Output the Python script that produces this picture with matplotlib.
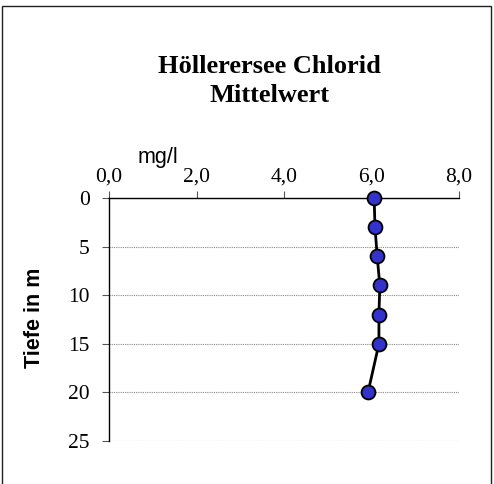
import numpy as np
import matplotlib.pyplot as plt
from matplotlib.patches import Rectangle

depth = [0, 3, 6, 9, 12, 15, 20]
chlorid = [6.06, 6.08, 6.13, 6.19, 6.17, 6.17, 5.92]
xticks = [0, 2, 4, 6, 8]
xticklabels = ['0,0', '2,0', '4,0', '6,0', '8,0']
yticks = [0, 5, 10, 15, 20, 25]

fig = plt.figure(figsize=(4.94, 4.84), dpi=100)
ax = fig.add_axes([109/494, 1 - 441/484, 350/494, 243/484])

ax.plot(chlorid, depth, color='black', linewidth=2, zorder=3,
        marker='o', markersize=10, markerfacecolor='#3333cc',
        markeredgecolor='black', markeredgewidth=1.3, clip_on=False)

ax.set_xlim(0, 8)
ax.set_ylim(25, 0)
ax.xaxis.tick_top()
ax.set_xticks(xticks)
ax.set_xticklabels(xticklabels)
ax.set_yticks(yticks)
for lab in ax.get_xticklabels() + ax.get_yticklabels():
    lab.set_family('Liberation Serif')
    lab.set_fontsize(15.5)
ax.tick_params(axis='x', direction='out', length=5, width=0.8, pad=3, color='#555555')
ax.tick_params(axis='y', direction='out', length=5, width=0.8, pad=9, color='#555555')

ax.grid(axis='y', color='#888888', linestyle=(0, (1, 1)), linewidth=0.8)
ax.spines['right'].set_visible(False)
ax.spines['bottom'].set_visible(False)
ax.spines['top'].set_linewidth(1)
ax.spines['left'].set_linewidth(1)

fig.text(269/494, 1 - 81/484, 'Höllerersee Chlorid\nMittelwert', ha='center', va='center',
         family='Liberation Serif', fontweight='bold', fontsize=19, linespacing=1.3)
fig.text(158/494, 1 - 157/484, 'mg/l', ha='center', va='center',
         family='Liberation Sans', fontsize=15.5)
fig.text(34/494, 1 - 318/484, 'Tiefe in m', ha='center', va='center', rotation=90,
         family='Liberation Sans', fontweight='bold', fontsize=15.5)

fig.patches.append(Rectangle((2/494, -0.05), 489/494, 1 - 6/484 + 0.05, transform=fig.transFigure,
                             fill=False, edgecolor='#222222', linewidth=1))

fig.savefig('out.png', dpi=100)
